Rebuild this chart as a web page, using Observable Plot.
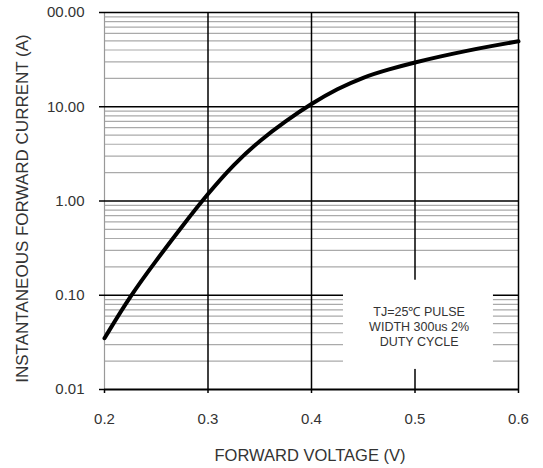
<!DOCTYPE html>
<html>
<head>
<meta charset="utf-8">
<script src="https://cdn.jsdelivr.net/npm/d3@7"></script>
<script src="https://cdn.jsdelivr.net/npm/@observablehq/plot@0.6"></script>
<style>
  html, body { margin: 0; padding: 0; background: #fff; }
  svg { display: block; }
</style>
</head>
<body>
<div id="chart"></div>
<script>
// Data
const voltage = [0.200, 0.225, 0.250, 0.275, 0.300, 0.325, 0.350, 0.375, 0.400, 0.425, 0.450, 0.475, 0.500, 0.525, 0.550, 0.575, 0.600];
const current = [0.035, 0.099, 0.234, 0.54, 1.2, 2.46, 4.38, 7.05, 10.8, 15.5, 20.6, 25.0, 29.6, 34.3, 39.3, 44.3, 49.5];

const xTicks = [0.2, 0.3, 0.4, 0.5, 0.6];
const xTickLabels = ["0.2", "0.3", "0.4", "0.5", "0.6"];
const yTicks = [0.01, 0.1, 1, 10, 100];
const yTickLabels = ["0.01", "0.10", "1.00", "10.00", "00.00"];
const minorMultipliers = [2, 3, 4, 5, 6, 7, 8, 9];
const decades = [0.01, 0.1, 1, 10];

const xTitle = "FORWARD VOLTAGE (V)";
const yTitle = "INSTANTANEOUS FORWARD CURRENT (A)";
const noteLines = ["TJ=25\u2103 PULSE", "WIDTH 300us 2%", "DUTY CYCLE"];

const curveData = voltage.map((v, i) => ({v, i: current[i]}));
const minorY = decades.flatMap(d => minorMultipliers.map(m => d * m));

const font = "'Liberation Sans', Arial, sans-serif";
const textColor = "#333";

const chart = Plot.plot({
  width: 543,
  height: 468,
  marginLeft: 104,
  marginRight: 25,
  marginTop: 12,
  marginBottom: 79,
  style: {fontFamily: font, background: "#fff"},
  x: {domain: [0.2, 0.6]},
  y: {type: "log", domain: [0.01, 100]},
  marks: [
    // minor gridlines
    Plot.ruleY(minorY, {stroke: "#aaa", strokeWidth: 1.2}),
    // left border (gray)
    Plot.ruleX([0.2], {stroke: "#999", strokeWidth: 1.2}),
    // major horizontal gridlines
    Plot.ruleY(yTicks.slice(1), {stroke: "#000", strokeWidth: 1.5}),
    Plot.ruleY([0.01], {stroke: "#000", strokeWidth: 2.2}),
    // major vertical gridlines
    Plot.ruleX(xTicks.slice(1), {stroke: "#000", strokeWidth: 1.5}),
    // annotation box (white) covering the grid
    Plot.rect([{x1: 0.4309, x2: 0.5758, y1: 0.01633, y2: 0.1444}], {x1: "x1", x2: "x2", y1: "y1", y2: "y2", fill: "#fff"}),
    Plot.text([noteLines.join("\n")], {
      x: 0.504, y: 0.0468, text: d => d, fill: textColor,
      fontSize: 12.5, lineHeight: 1.18, textAnchor: "middle", fontFamily: font
    }),
    // axes
    Plot.axisY(yTicks, {
      tickSize: 5, tickPadding: 15, stroke: "#000", strokeWidth: 1.5,
      tickFormat: d => yTickLabels[yTicks.indexOf(d)], fontSize: 15, fill: textColor, label: null
    }),
    Plot.axisX(xTicks, {
      tickSize: 4, tickPadding: 20, stroke: "#000", strokeWidth: 1.5,
      tickFormat: d => xTickLabels[xTicks.indexOf(d)], fontSize: 15, fill: textColor, label: null
    }),
    // curve
    Plot.line(curveData, {x: "v", y: "i", stroke: "#000", strokeWidth: 4, curve: "basis"}),
    // axis titles
    Plot.text([xTitle], {frameAnchor: "bottom", dy: 66, dx: -1.5, textAnchor: "middle", lineAnchor: "middle", text: d => d, fontSize: 16.5, fill: textColor, fontFamily: font}),
    Plot.text([yTitle], {frameAnchor: "left", dx: -81.5, dy: 7.5, rotate: -90, textAnchor: "middle", lineAnchor: "middle", text: d => d, fontSize: 17, fill: textColor, fontFamily: font})
  ]
});

document.getElementById("chart").appendChild(chart);
</script>
</body>
</html>
